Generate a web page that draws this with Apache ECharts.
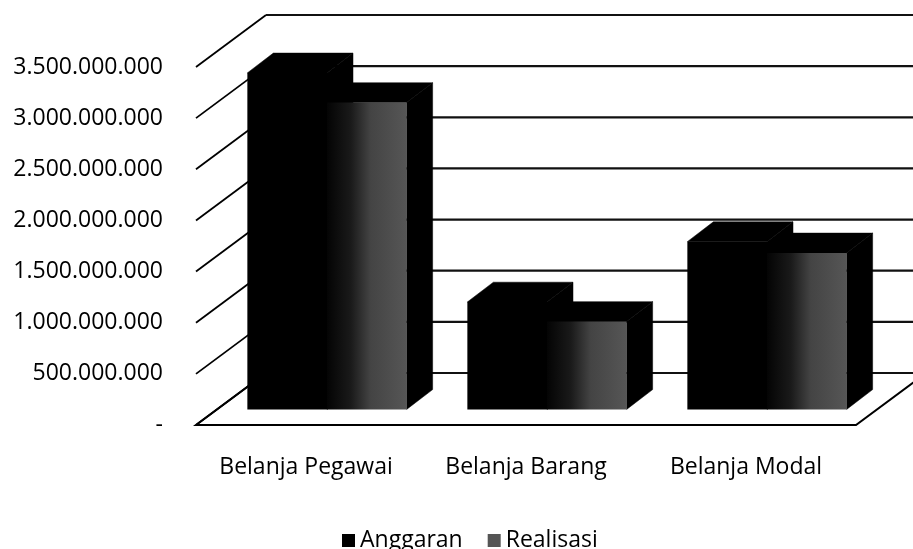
<!DOCTYPE html>
<html>
<head>
<meta charset="utf-8">
<script src="https://cdn.jsdelivr.net/npm/echarts@6/dist/echarts.min.js"></script>
<style>html,body{margin:0;padding:0;background:#fff}#c{width:913px;height:549px}</style>
</head>
<body>
<div id="c"></div>
<script>
const categories = ['Belanja Pegawai', 'Belanja Barang', 'Belanja Modal'];
const anggaran = [3290000000, 1050000000, 1640000000];
const realisasi = [3000000000, 860000000, 1530000000];
const yTicks = [0, 500000000, 1000000000, 1500000000, 2000000000, 2500000000, 3000000000, 3500000000];
const seriesNames = ['Anggaran', 'Realisasi'];

const FONT = 'Open Sans';
const DEPTH = [70, -52];          // floor depth offset
const BAR_FRONT = [21, -15.6];    // bar front face depth offset
const BAR_BACK = [47, -35.4];     // bar back face depth offset
const BAR_FRAC = 0.362;           // bar width as fraction of band

function fmt(v) {
  if (v === 0) return '-';
  return String(v).replace(/\B(?=(\d{3})+(?!\d))/g, '.');
}

function barRender(side, frontFill) {
  return function (params, api) {
    const cat = api.value(0), val = api.value(1);
    const base = api.coord([cat, 0]);
    const top = api.coord([cat, val]);
    const band = api.size([1, 0])[0];
    const w = band * BAR_FRAC;
    const x0 = side === 0 ? base[0] - w : base[0];
    const x1 = x0 + w;
    const fx = BAR_FRONT[0], fy = BAR_FRONT[1], bx = BAR_BACK[0], by = BAR_BACK[1];
    return {
      type: 'group',
      children: [
        { type: 'polygon', shape: { points: [[x1 + fx, top[1] + fy], [x1 + bx, top[1] + by], [x1 + bx, base[1] + by], [x1 + fx, base[1] + fy]] }, style: { fill: '#000', stroke: '#000', lineWidth: 0.5 } },
        { type: 'polygon', shape: { points: [[x0 + fx, top[1] + fy], [x1 + fx, top[1] + fy], [x1 + bx, top[1] + by], [x0 + bx, top[1] + by]] }, style: { fill: '#000', stroke: '#000', lineWidth: 0.5 } },
        { type: 'rect', shape: { x: x0 + fx, y: top[1] + fy, width: w, height: base[1] - top[1] }, style: { fill: frontFill } }
      ]
    };
  };
}

const chart = echarts.init(document.getElementById('c'), null, { renderer: 'canvas' });
chart.setOption({
  backgroundColor: '#fff',
  animation: false,
  grid: { left: 196, right: 57, top: 67, bottom: 124, containLabel: false },
  xAxis: {
    type: 'category', data: categories,
    axisLine: { show: false }, axisTick: { show: false },
    axisLabel: { color: '#000', fontFamily: FONT, fontSize: 23, margin: 31, interval: 0, hideOverlap: false }
  },
  yAxis: {
    type: 'value', min: 0, max: 3500000000, interval: 500000000,
    axisLine: { show: false }, axisTick: { show: false }, splitLine: { show: false },
    axisLabel: { color: '#000', fontFamily: FONT, fontSize: 23, margin: 33, formatter: fmt }
  },
  legend: {
    data: seriesNames, left: 337, top: 524, icon: 'rect', itemWidth: 13, itemHeight: 13, itemGap: 25,
    textStyle: { color: '#000', fontFamily: FONT, fontSize: 23 }
  },
  series: [
    {
      type: 'custom', name: 'floor', silent: true, clip: false, z: 1,
      data: [[0, 0]],
      renderItem: function (params, api) {
        const cs = params.coordSys;
        const yb = api.coord([0, 0])[1];
        const xl = cs.x, xr = cs.x + cs.width;
        return { type: 'polygon', shape: { points: [[xl, yb], [xr, yb], [xr + DEPTH[0], yb + DEPTH[1]], [xl + DEPTH[0], yb + DEPTH[1]]] }, style: { fill: '#fff', stroke: '#000', lineWidth: 2 } };
      }
    },
    {
      type: 'custom', name: 'wall', silent: true, clip: false, z: 2,
      data: yTicks.map(v => [0, v]),
      renderItem: function (params, api) {
        const cs = params.coordSys;
        const y = api.coord([0, api.value(1)])[1];
        const xl = cs.x, xr = cs.x + cs.width;
        return {
          type: 'group', children: [
            { type: 'line', shape: { x1: xl, y1: y, x2: xl + DEPTH[0], y2: y + DEPTH[1] }, style: { stroke: '#000', lineWidth: 1.8 } },
            { type: 'line', shape: { x1: xl + DEPTH[0], y1: y + DEPTH[1], x2: xr + DEPTH[0], y2: y + DEPTH[1] }, style: { stroke: '#111', lineWidth: 2.2 } }
          ]
        };
      }
    },
    {
      type: 'custom', name: seriesNames[0], clip: false, z: 3,
      itemStyle: { color: '#000' },
      data: anggaran.map((v, i) => [i, v]),
      encode: { x: 0, y: 1 },
      renderItem: barRender(0, '#000')
    },
    {
      type: 'custom', name: seriesNames[1], clip: false, z: 4,
      itemStyle: { color: '#555555' },
      data: realisasi.map((v, i) => [i, v]),
      encode: { x: 0, y: 1 },
      renderItem: barRender(1, {
        type: 'linear', x: 0, y: 0, x2: 1, y2: 0,
        colorStops: [
          { offset: 0, color: '#040404' },
          { offset: 0.3, color: '#1a1a1a' },
          { offset: 0.55, color: '#444444' },
          { offset: 1, color: '#565656' }
        ]
      })
    }
  ]
});
</script>
</body>
</html>
